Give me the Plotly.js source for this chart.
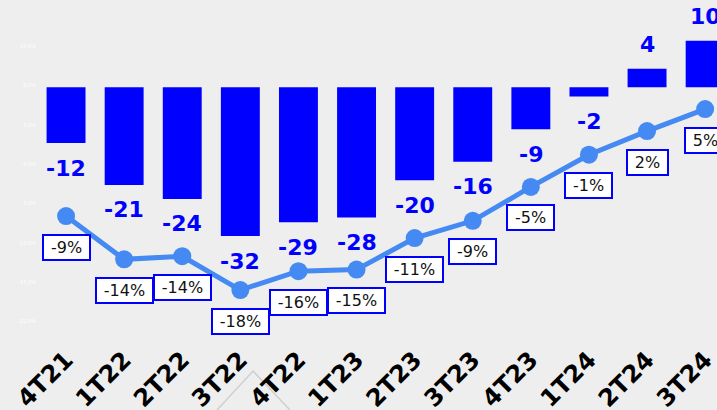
<!DOCTYPE html>
<html>
<head>
<meta charset="utf-8">
<script src="https://cdn.plot.ly/plotly-3.0.1.min.js"></script>
<style>
  html, body { margin: 0; padding: 0; background: #eeeeee; }
  #chart { width: 717px; height: 410px; }
</style>
</head>
<body>
<div id="chart"></div>
<script>
// ---- data ----
const categories = ['4T21','1T22','2T22','3T22','4T22','1T23','2T23','3T23','4T23','1T24','2T24','3T24'];
const barValues  = [-12, -21, -24, -32, -29, -28, -20, -16, -9, -2, 4, 10];
const pctValues  = [-8.6, -14.1, -13.7, -18, -15.6, -15.4, -11.4, -9.2, -4.9, -0.8, 2.2, 5];
const leftTickVals = [13, 8, 3, -2, -7, -12, -17, -22];

// ---- layout geometry ----
const W = 717, Hfig = 410;
const mL = 37, mR = 0, mT = 0, mB = 70;
const plotH = Hfig - mT - mB;
const plotW = W - mL - mR;
const catStep = 58.1;                    // px per category
const barZeroPx = 87.3, barPxPerUnit = 4.65;
const lineZeroPx = 148.4, linePxPerUnit = 7.87;

const barRange  = [-(plotH - barZeroPx) / barPxPerUnit, barZeroPx / barPxPerUnit];
const lineRange = [-(plotH - lineZeroPx) / linePxPerUnit, lineZeroPx / linePxPerUnit];
const xRange = [-0.5, -0.5 + plotW / catStep];

const blue = '#0000ff';
const lineBlue = '#4589f2';

// text measuring for label boxes
const ctx = document.createElement('canvas').getContext('2d');
ctx.font = '16px "DejaVu Sans"';
function textW(s) { return ctx.measureText(s).width; }

const barTrace = {
  type: 'bar',
  x: categories,
  y: barValues,
  marker: { color: blue },
  width: 0.67,
  hoverinfo: 'skip'
};

const lineTrace = {
  type: 'scatter',
  mode: 'lines+markers',
  x: categories,
  y: pctValues,
  yaxis: 'y2',
  line: { color: lineBlue, width: 5 },
  marker: { color: lineBlue, size: 18 },
  hoverinfo: 'skip'
};

const annotations = [];
categories.forEach((c, i) => {
  const v = barValues[i];
  annotations.push({
    x: c, y: v, xref: 'x', yref: 'y',
    text: String(v),
    showarrow: false,
    yanchor: 'middle',
    yshift: v < 0 ? -25 : 24,
    font: { family: 'DejaVu Sans', size: 22, color: blue, weight: 'bold' }
  });
  const p = pctValues[i];
  const label = Math.round(p) + '%';
  annotations.push({
    x: c, y: p, xref: 'x', yref: 'y2',
    text: label,
    showarrow: false,
    yanchor: 'middle',
    yshift: -31,
    width: Math.round(textW(label) + 10),
    height: 19,
    align: 'center',
    valign: 'middle',
    bgcolor: '#ffffff',
    bordercolor: blue,
    borderwidth: 2,
    borderpad: 2,
    font: { family: 'DejaVu Sans', size: 16, color: '#111111' }
  });
});

const layout = {
  width: W, height: Hfig,
  margin: { l: mL, r: mR, t: mT, b: mB, pad: 0 },
  paper_bgcolor: '#eeeeee',
  plot_bgcolor: '#eeeeee',
  showlegend: false,
  bargap: 0.33,
  font: { family: 'DejaVu Sans' },
  xaxis: {
    type: 'category',
    range: xRange,
    tickangle: -45,
    showgrid: false,
    zeroline: false,
    showline: false,
    ticks: '',
    tickfont: { family: 'DejaVu Sans', size: 24, color: '#000000', weight: 'bold' }
  },
  yaxis: {
    range: barRange,
    showgrid: false,
    zeroline: false,
    showline: false,
    showticklabels: false,
    ticks: ''
  },
  yaxis2: {
    range: lineRange,
    overlaying: 'y',
    side: 'left',
    showgrid: false,
    zeroline: false,
    showline: false,
    ticks: '',
    tickmode: 'array',
    tickvals: leftTickVals,
    ticktext: leftTickVals.map(v => v.toFixed(1) + '%'),
    tickfont: { family: 'DejaVu Sans', size: 5, color: '#ffffff' }
  },
  shapes: [{
    type: 'path',
    xref: 'paper', yref: 'paper',
    path: 'M ' + ((217 - mL) / plotW) + ',' + ((plotH - 410) / plotH) +
          ' L ' + ((253 - mL) / plotW) + ',' + ((plotH - 371) / plotH) +
          ' L ' + ((290 - mL) / plotW) + ',' + ((plotH - 410) / plotH),
    line: { color: '#cfcfcf', width: 1.5 },
    layer: 'below'
  }],
  annotations: annotations
};

Plotly.newPlot('chart', [barTrace, lineTrace], layout, { staticPlot: true, displayModeBar: false });
</script>
</body>
</html>
